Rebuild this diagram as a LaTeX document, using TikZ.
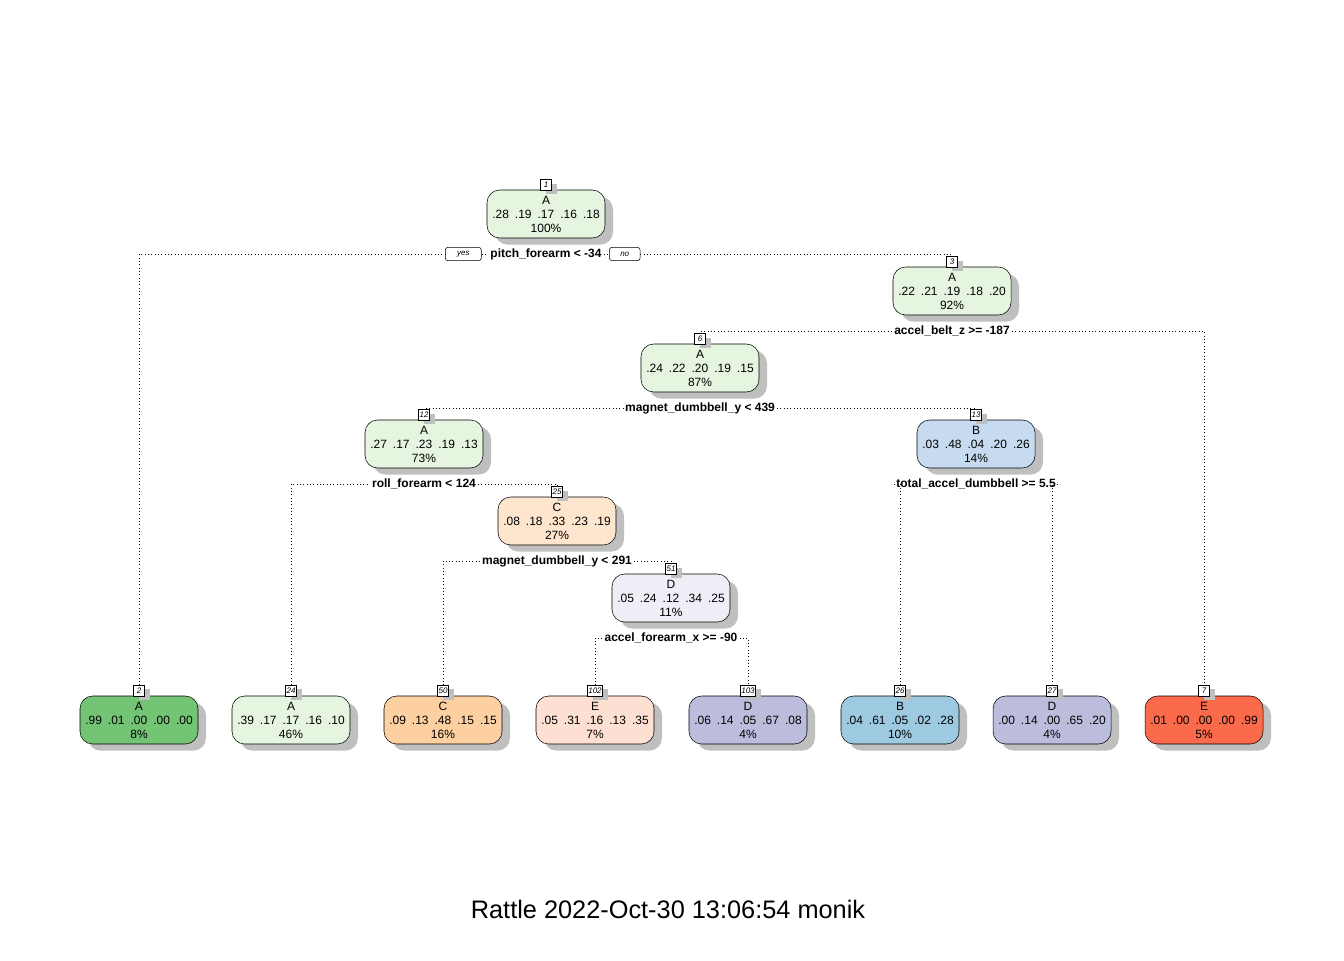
\documentclass[tikz,border=0pt]{standalone}
\usepackage{fontspec}
\setmainfont{Liberation Sans}
\usetikzlibrary{shadows, positioning}

\definecolor{lgreen}{HTML}{E5F5E0}
\definecolor{dgreen}{HTML}{74C476}
\definecolor{lblue}{HTML}{C6DBEF}
\definecolor{dblue}{HTML}{9ECAE1}
\definecolor{lorange}{HTML}{FEE6CE}
\definecolor{dorange}{HTML}{FDD0A2}
\definecolor{lpurple}{HTML}{EFEDF5}
\definecolor{dpurple}{HTML}{BCBDDC}
\definecolor{lred}{HTML}{FEE0D2}
\definecolor{dred}{HTML}{FB6A4A}

\newcommand{\probs}[5]{#1\enspace#2\enspace#3\enspace#4\enspace#5}

\begin{document}
\begin{tikzpicture}[x=0.75pt,y=0.75pt,yscale=-1,xscale=1,
  box/.style={draw, rounded corners=9.5pt, minimum width=88.5pt, minimum height=36pt,
    align=center, inner sep=0pt, font=\fontsize{9}{10.5}\selectfont,
    drop shadow={shadow xshift=6pt, shadow yshift=-5pt, fill=black!25, opacity=1}},
  num/.style={draw, fill=white, inner sep=0.5pt, minimum width=8.5pt, minimum height=8pt,
    font=\fontsize{6}{6.5}\selectfont\itshape,
    drop shadow={shadow xshift=4pt, shadow yshift=-3pt, fill=black!25, opacity=1}},
  tag/.style={draw, fill=white, rounded corners=2pt, inner sep=0pt,
    minimum width=27pt, minimum height=10pt, font=\fontsize{6}{7}\selectfont\itshape},
  split/.style={inner sep=1.5pt, font=\fontsize{9}{10}\selectfont\bfseries},
  edge/.style={dotted, line width=0.5pt}]
\useasboundingbox (0,0) rectangle (1344,960);

% inner nodes
\node[box, fill=lgreen] (n1) at (546,214) {A\\\probs{.28}{.19}{.17}{.16}{.18}\\100\%};
\node[num] (n1id) at (546,185) {1};
\node[box, fill=lgreen] (n3) at (952,291) {A\\\probs{.22}{.21}{.19}{.18}{.20}\\92\%};
\node[num] (n3id) at (952,262) {3};
\node[box, fill=lgreen] (n6) at (700,368) {A\\\probs{.24}{.22}{.20}{.19}{.15}\\87\%};
\node[num] (n6id) at (700,339) {6};
\node[box, fill=lgreen] (n12) at (424,444) {A\\\probs{.27}{.17}{.23}{.19}{.13}\\73\%};
\node[num] (n12id) at (424,415) {12};
\node[box, fill=lblue] (n13) at (976,444) {B\\\probs{.03}{.48}{.04}{.20}{.26}\\14\%};
\node[num] (n13id) at (976,415) {13};
\node[box, fill=lorange] (n25) at (557,521) {C\\\probs{.08}{.18}{.33}{.23}{.19}\\27\%};
\node[num] (n25id) at (557,492) {25};
\node[box, fill=lpurple] (n51) at (671,598) {D\\\probs{.05}{.24}{.12}{.34}{.25}\\11\%};
\node[num] (n51id) at (671,569) {51};

% leaves
\foreach \id/\x/\col/\cls/\pr/\pct in {
  2/139/dgreen/A/{\probs{.99}{.01}{.00}{.00}{.00}}/8,
  24/291/lgreen/A/{\probs{.39}{.17}{.17}{.16}{.10}}/46,
  50/443/dorange/C/{\probs{.09}{.13}{.48}{.15}{.15}}/16,
  102/595/lred/E/{\probs{.05}{.31}{.16}{.13}{.35}}/7,
  103/748/dpurple/D/{\probs{.06}{.14}{.05}{.67}{.08}}/4,
  26/900/dblue/B/{\probs{.04}{.61}{.05}{.02}{.28}}/10,
  27/1052/dpurple/D/{\probs{.00}{.14}{.00}{.65}{.20}}/4,
  7/1204/dred/E/{\probs{.01}{.00}{.00}{.00}{.99}}/5}{
  \node[box, fill=\col] (n\id) at (\x,720) {\cls\\\pr\\\pct\%};
  \node[num] (n\id id) at (\x,690.5) {\id};
}

% split labels
\node[split] (s1) at (546,254) {pitch\_forearm < -34};
\node[tag, left=5pt of s1] (yes) {yes};
\node[tag, right=4pt of s1, minimum width=23pt] (no) {no};
\node[split] (s3) at (952,331) {accel\_belt\_z >= -187};
\node[split] (s6) at (700,408) {magnet\_dumbbell\_y < 439};
\node[split] (s12) at (424,484) {roll\_forearm < 124};
\node[split] (s13) at (976,484) {total\_accel\_dumbbell >= 5.5};
\node[split] (s25) at (557,561) {magnet\_dumbbell\_y < 291};
\node[split] (s51) at (671,638) {accel\_forearm\_x >= -90};

% connectors
\draw[edge] (n2id.north) |- (yes.west);
\draw[edge] (yes.east) -- (s1.west);
\draw[edge] (s1.east) -- (no.west);
\draw[edge] (no.east) -| (n3id.north);
\foreach \s/\l/\r in {s3/n6id/n7id, s6/n12id/n13id, s12/n24id/n25id,
    s13/n26id/n27id, s25/n50id/n51id, s51/n102id/n103id}{
  \draw[edge] (\l.north) |- (\s.west);
  \draw[edge] (\s.east) -| (\r.north);
}

\node[font=\fontsize{19}{23}\selectfont] (footer) at (668,909) {Rattle 2022-Oct-30 13:06:54 monik};
\end{tikzpicture}
\end{document}
